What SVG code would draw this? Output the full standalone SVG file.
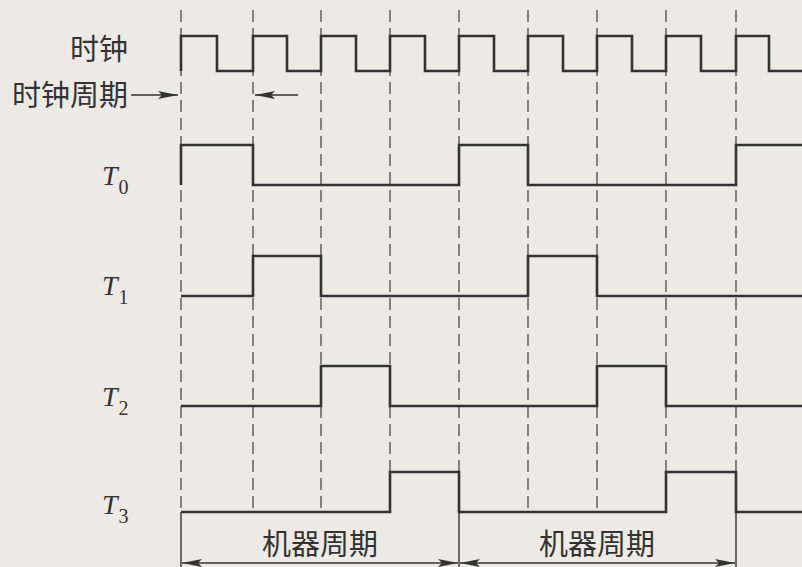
<svg xmlns="http://www.w3.org/2000/svg" width="802" height="567" viewBox="0 0 802 567">
<style>
.bg{fill:#edeae6}
.dash{stroke:#4a4a4a;stroke-width:1.3;stroke-dasharray:12 6;fill:none}
.wave{stroke:#333;stroke-width:2.6;fill:none;stroke-linejoin:miter}
.thin{stroke:#333;stroke-width:1.4;fill:none}
.cjk{font-family:"Noto Sans CJK SC","Noto Sans",sans-serif;font-size:29px;fill:#333}
.tl{font-family:"Liberation Serif",serif;font-style:italic;font-size:28px;fill:#333}
.sub{font-style:normal;font-size:20px}
</style>
<defs>
<marker id="ah" viewBox="0 0 20 8" refX="20" refY="4" markerWidth="20" markerHeight="8" markerUnits="userSpaceOnUse" orient="auto-start-reverse">
<path d="M0,0 L20,4 L0,8 L4,4 Z" fill="#333"/>
</marker>
</defs>
<rect class="bg" x="0" y="0" width="802" height="567"/>
<g id="gridlines">
<line class="dash" x1="181" y1="10" x2="181" y2="512"/>
<line class="dash" x1="253" y1="10" x2="253" y2="512"/>
<line class="dash" x1="321" y1="10" x2="321" y2="512"/>
<line class="dash" x1="390" y1="10" x2="390" y2="512"/>
<line class="dash" x1="459" y1="10" x2="459" y2="512"/>
<line class="dash" x1="528" y1="10" x2="528" y2="512"/>
<line class="dash" x1="597" y1="10" x2="597" y2="512"/>
<line class="dash" x1="666" y1="10" x2="666" y2="512"/>
<line class="dash" x1="736" y1="10" x2="736" y2="512"/>
</g>
<g id="clock">
<text class="cjk" x="128" y="60" text-anchor="end">时钟</text>
<path class="wave" d="M181,71 V36 H217 V71 H253 V36 H287 V71 H321 V36 H356 V71 H390 V36 H425 V71 H459 V36 H494 V71 H528 V36 H563 V71 H597 V36 H632 V71 H666 V36 H701 V71 H736 V36 H769 V71 H802"/>
</g>
<g id="clock-period">
<text class="cjk" x="128" y="106" text-anchor="end">时钟周期</text>
</g>
<g id="T0">
<text class="tl" x="102" y="185">T<tspan class="sub" dx="1" dy="9">0</tspan></text>
<path class="wave" d="M181,185 V145 H253 V185 H459 V145 H528 V185 H736 V145 H802"/>
</g>
<g id="T1">
<text class="tl" x="102" y="295">T<tspan class="sub" dx="1" dy="9">1</tspan></text>
<path class="wave" d="M181,296 H253 V256 H321 V296 H528 V256 H597 V296 H802"/>
</g>
<g id="T2">
<text class="tl" x="102" y="406">T<tspan class="sub" dx="1" dy="9">2</tspan></text>
<path class="wave" d="M181,406 H321 V366 H390 V406 H597 V366 H666 V406 H802"/>
</g>
<g id="T3">
<text class="tl" x="102" y="514">T<tspan class="sub" dx="1" dy="9">3</tspan></text>
<path class="wave" d="M181,512 H390 V472 H459 V512 H666 V472 H736 V512 H802"/>
</g>
<g id="machine-cycle-1">
<text class="cjk" x="320" y="555" text-anchor="middle">机器周期</text>
</g>
<g id="machine-cycle-2">
<text class="cjk" x="597" y="555" text-anchor="middle">机器周期</text>
</g>
<g id="connectors">
<line class="thin" x1="181" y1="512" x2="181" y2="567"/>
<line class="thin" x1="459" y1="512" x2="459" y2="567"/>
<line class="thin" x1="736" y1="512" x2="736" y2="567"/>
<line class="thin" x1="182" y1="563" x2="458" y2="563" marker-start="url(#ah)" marker-end="url(#ah)"/>
<line class="thin" x1="460" y1="563" x2="735" y2="563" marker-start="url(#ah)" marker-end="url(#ah)"/>
<line class="thin" x1="131" y1="95" x2="178" y2="95" marker-end="url(#ah)"/>
<line class="thin" x1="298" y1="95" x2="255" y2="95" marker-end="url(#ah)"/>
</g>
</svg>
